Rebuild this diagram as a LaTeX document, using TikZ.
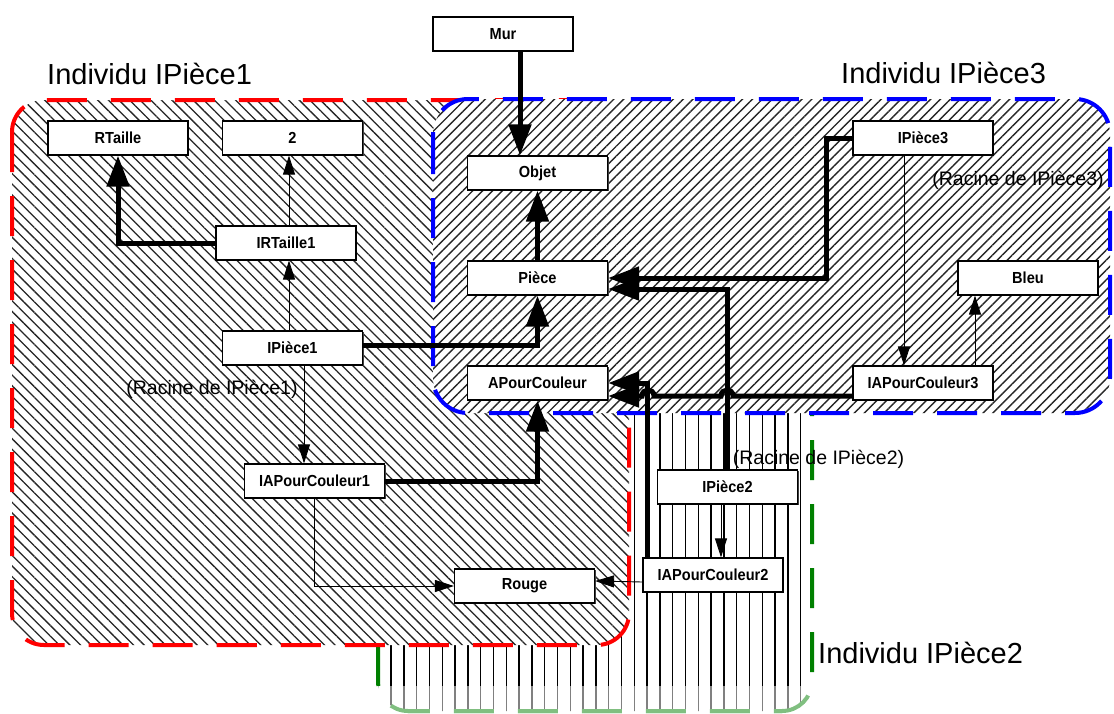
\documentclass[tikz,border=0pt]{standalone}
\usepackage{fontspec}
\setmainfont{Liberation Sans}
\newfontfamily\boxfont[FakeStretch=0.91]{Liberation Sans}
\usetikzlibrary{arrows.meta,patterns.meta,shadows}
\definecolor{regred}{RGB}{255,0,0}
\definecolor{regblue}{RGB}{0,0,255}
\definecolor{reggreen}{RGB}{0,128,0}
\tikzset{
  boxnode/.style={draw=black, line width=1.2pt, fill=white, minimum width=140pt,
    minimum height=34pt, inner sep=0pt, font=\boxfont\bfseries\fontsize{16}{19}\selectfont,
    drop shadow={shadow xshift=1.2pt, shadow yshift=-1.2pt, opacity=1, fill=black!75}},
  thickarrow/.style={line width=5pt, -{Triangle[length=31pt,width=22pt]}},
  thinarrow/.style={line width=0.9pt, -{Triangle[length=19pt,width=12pt]}},
  lbl/.style={font=\fontsize{29}{34}\selectfont, inner sep=0pt},
  racine/.style={font=\fontsize{19.5}{23}\selectfont, inner sep=0pt},
  region/.style={line width=4pt, dash pattern=on 40pt off 24pt},
}
\begin{document}
\begin{tikzpicture}[x=1pt,y=-1pt]
\useasboundingbox (0,0) rectangle (1114,713);
\clip (0,0) rectangle (1114,713);

% green region (Individu IPiece2), vertical lines
\begin{scope}
  \fill[white, rounded corners=30pt] (378,360) rectangle (812,711);
  \clip[rounded corners=30pt] (378,360) rectangle (812,711);
  \foreach \i in {0,...,33} \draw[line width=1.4pt, black] ({378.3+12.8*\i},360) -- ++(0,360);
\end{scope}
\draw[region, draw=reggreen, rounded corners=30pt] (378,360) rectangle (812,711);
\fill[white, opacity=0.5] (370,686) rectangle (820,713);

% red region (Individu IPiece1)
\draw[region, draw=regred, rounded corners=32pt, preaction={fill=white},
  pattern={Lines[angle=-45,distance=7.5pt,line width=1.3pt]}, pattern color=black!85]
  (12,100) rectangle (629,645);

% blue region (Individu IPiece3)
\draw[region, draw=regblue, rounded corners=35pt, preaction={fill=white},
  pattern={Lines[angle=45,distance=7pt,line width=1.4pt]}, pattern color=black!85]
  (433,99) rectangle (1110,413);

% labels
\node[lbl, anchor=base west] (L1) at (47,84) {Individu IPièce1};
\node[lbl, anchor=base west] (L3) at (841,83) {Individu IPièce3};
\node[lbl, anchor=base west] (L2) at (818,663) {Individu IPièce2};
\node[racine] (R1) at (212,389) {(Racine de IPièce1)};
\node[racine] (R3) at (1018,180) {(Racine de IPièce3)};
\node[racine] (R2) at (818.5,459) {(Racine de IPièce2)};

% boxes
\node[boxnode] (Mur) at (503,34) {Mur};
\node[boxnode] (RTaille) at (118,138) {RTaille};
\node[boxnode] (n2) at (292.5,138) {2};
\node[boxnode] (Objet) at (537.5,173) {Objet};
\node[boxnode] (IPiece3) at (923,138) {IPièce3};
\node[boxnode] (IRTaille1) at (286,243) {IRTaille1};
\node[boxnode] (Piece) at (537.5,278) {Pièce};
\node[boxnode] (Bleu) at (1028,278) {Bleu};
\node[boxnode] (IPiece1) at (292.5,348) {IPièce1};
\node[boxnode] (APC) at (537.5,383) {APourCouleur};
\node[boxnode] (IAPC3) at (923,383) {IAPourCouleur3};
\node[boxnode] (IAPC1) at (314.5,481) {IAPourCouleur1};
\node[boxnode] (IPiece2) at (727.5,487) {IPièce2};
\node[boxnode] (IAPC2) at (713,575) {IAPourCouleur2};
\node[boxnode] (Rouge) at (524.5,586) {Rouge};

% thick connectors
\draw[thickarrow] ([xshift=17pt]Mur.south) -- ([xshift=-17.5pt]Objet.north);
\draw[thickarrow] (Piece.north) -- (Objet.south);
\draw[thickarrow] ([yshift=3pt]IPiece1.east) -| (Piece.south);
\draw[thickarrow] (IPiece3.west) -- ++(-26,0) |- (Piece.east);
\draw[thickarrow] (IPiece2.north) |- ([yshift=-11pt]Piece.east);
\draw[thickarrow] ([xshift=5pt]IAPC2.north west) |- (APC.east);
\draw[thickarrow] ([yshift=-13pt]IAPC3.west) -- (733,396)
  .. controls (733,388) and (721,388) .. (721,396) -- (654,396)
  .. controls (654,388) and (642,388) .. (642,396) -- ([yshift=-13pt]APC.east);
\draw[thickarrow] (IAPC1.east) -| (APC.south);
\draw[thickarrow] (IRTaille1.west) -| (RTaille.south);

% thin connectors
\draw[thinarrow] ([xshift=3pt]IRTaille1.north) -- ([xshift=-3.5pt]n2.south);
\draw[thinarrow] ([xshift=-3.5pt]IPiece1.north) -- ([xshift=3pt]IRTaille1.south);
\draw[thinarrow] ([xshift=11.5pt]IPiece1.south) -- ([xshift=-10.5pt]IAPC1.north);
\draw[thinarrow] (IAPC1.south) |- (Rouge.west);
\draw[thinarrow] ([yshift=-7pt]IAPC2.west) -- ([yshift=5pt]Rouge.east);
\draw[thinarrow] ([xshift=-6.5pt]IPiece2.south) -- ([xshift=8pt]IAPC2.north);
\draw[thinarrow] ([xshift=-19pt]IPiece3.south) -- ([xshift=-19pt]IAPC3.north);
\draw[thinarrow] ([xshift=52pt]IAPC3.north) -- ([xshift=-53pt]Bleu.south);
\end{tikzpicture}
\end{document}
